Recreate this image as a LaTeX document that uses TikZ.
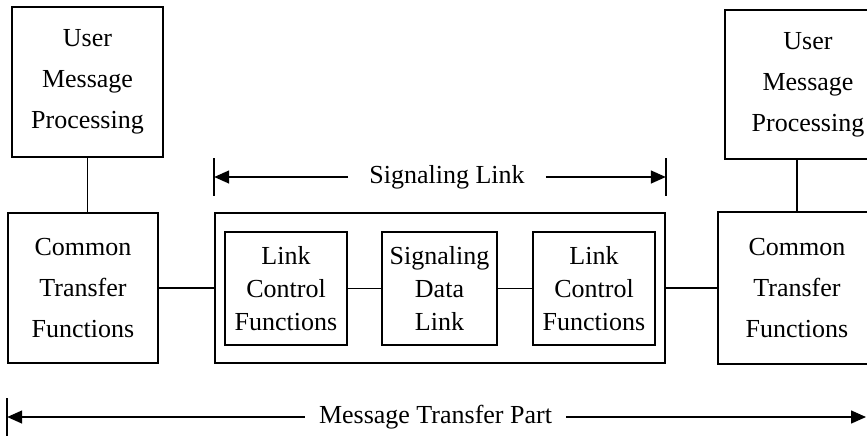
\documentclass[tikz,border=0pt]{standalone}
\usepackage{fontspec}
\setmainfont{Liberation Serif}
\usetikzlibrary{arrows.meta,positioning,calc}
\tikzset{
  box/.style={draw,line width=1.6pt,align=center,inner sep=0pt,font=\fontsize{26}{41}\selectfont},
  ibox/.style={box,minimum width=122pt,minimum height=113pt,font=\fontsize{26}{33}\selectfont},
  wire/.style={line width=1.5pt},
  arr/.style={-{Triangle[length=15pt,width=13pt]},line width=1.5pt},
  tick/.style={line width=1.5pt},
  lbl/.style={font=\fontsize{26}{30}\selectfont,inner ysep=0pt},
}
\begin{document}
\begin{tikzpicture}[x=1pt,y=-1pt]
  \clip (0,0) rectangle (867,440);
  % left end
  \node[box,minimum width=151pt,minimum height=150pt] (u1) at (87.5,82) {User\\Message\\Processing};
  \node[box,minimum width=150pt,minimum height=150pt] (c1) at (83,288) {Common\\Transfer\\Functions};
  % signaling link
  \node[box,minimum width=450pt,minimum height=150pt] (sl) at (440,288) {};
  \node[ibox] (l1) at (286,288.5) {Link\\Control\\Functions};
  \node[ibox,minimum width=115pt] (d) at (439.5,288.5) {Signaling\\Data\\Link};
  \node[ibox] (l2) at (594,288.5) {Link\\Control\\Functions};
  % right end
  \node[box,minimum width=166pt,minimum height=149pt] (u2) at (808,84.5) {User\\Message\\Processing};
  \node[box,minimum width=158pt,minimum height=152pt] (c2) at (797,288) {Common\\Transfer\\Functions};
  \draw[wire] (u1.south) -- (u1.south |- c1.north);
  \draw[wire] (c2.north) -- (c2.north |- u2.south);
  \foreach \a/\b in {c1/sl,l1/d,d/l2,sl/c2} \draw[wire] (\a.east) -- (\b.west);
  % extents
  \node[lbl,inner xsep=21pt] (slt) at (447,177) {Signaling Link};
  \coordinate (slL) at (sl.west |- slt);
  \coordinate (slR) at (sl.east |- slt);
  \node[lbl,inner xsep=14pt] (mt) at (435.5,417) {Message Transfer Part};
  \coordinate (mtL) at (c1.west |- mt);
  \coordinate (mtR) at (866,417);
  \draw[arr] (slt.west) -- (slL);
  \draw[arr] (slt.east) -- (slR);
  \draw[arr] (mt.west) -- (mtL);
  \draw[arr] (mt.east) -- (mtR);
  \foreach \t in {slL,slR,mtL} \draw[tick] ($(\t)+(0,-19)$) -- ($(\t)+(0,19)$);
\end{tikzpicture}
\end{document}
